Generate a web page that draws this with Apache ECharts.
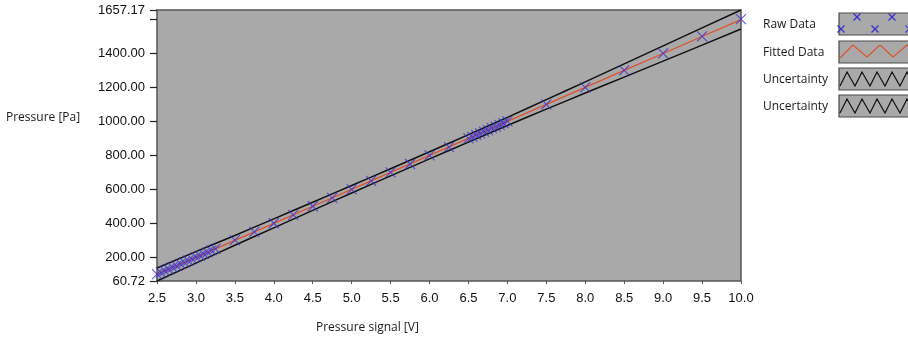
<!DOCTYPE html>
<html>
<head>
<meta charset="utf-8">
<script src="https://cdn.jsdelivr.net/npm/echarts@6/dist/echarts.min.js"></script>
<style>
html,body{margin:0;padding:0;background:#fff;}
#c{width:908px;height:342px;}
</style>
</head>
<body>
<div id="c"></div>
<script>
// ---- data ----
const rawV = [2.50,2.55,2.60,2.65,2.70,2.75,2.80,2.85,2.90,2.95,3.00,3.05,3.10,3.15,3.20,3.25,
  3.50,3.75,4.00,4.25,4.50,4.75,5.00,5.25,5.50,5.75,6.00,6.25,
  6.50,6.55,6.60,6.65,6.70,6.75,6.80,6.85,6.90,6.95,7.00,
  7.50,8.00,8.50,9.00,9.50,10.00];
const rawP = [101,110,121,130,141,150,161,170,181,190,201,210,221,230,241,250,
  301,350,401,450,501,550,601,650,700,750,801,850,
  901,910,921,930,941,950,961,970,981,990,1001,
  1101,1201,1301,1401,1502,1603];
const fitV = [2.5,3.0,3.5,4.0,4.5,5.0,5.5,6.0,6.5,7.0,7.5,8.0,8.5,9.0,9.5,10.0];
const fitP = [99.5,200,300,400.5,501,601,701,801,901,1001,1101,1201,1301,1401,1501,1601];
const upperP = [137,234,329,427,525,623,722,822,923,1025,1129,1234,1340,1446,1552,1657.17];
const lowerP = [60.72,166,271,374,477,579,680,780,879,977,1073,1168,1262,1356,1450,1545];
const yTickLabels = [60.72,200,400,600,800,1000,1200,1400,1657.17];
const yTicks = [60.72,200,400,600,800,1000,1200,1400,1600,1657.17];
const legendNames = ['Raw Data','Fitted Data','Uncertainty','Uncertainty'];

const pair = (xs, ys) => xs.map((x, i) => [x, ys[i]]);

const chart = echarts.init(document.getElementById('c'), null, {renderer: 'canvas'});
const tickFont = 'Liberation Sans';
const uiFont = '"Open Sans","Noto Sans",sans-serif';

// legend graphics
const legendG = [];
const boxTops = [13, 41, 68, 95];
const boxH = 22;
legendNames.forEach((name, i) => {
  const top = boxTops[i];
  legendG.push({type: 'text', x: 763, y: top + 12, z: 10,
    style: {text: name, font: '12px ' + uiFont, fill: '#1a1a1a', verticalAlign: 'middle'}});
  legendG.push({type: 'rect', z: 10, shape: {x: 839, y: top, width: 80, height: boxH},
    style: {fill: '#a9a9a9', stroke: '#4a4a4a', lineWidth: 1.2}});
});
// raw data crosses in legend
[[841, 29], [857, 17], [875, 29], [892, 17], [909, 29]].forEach(c => {
  const s = 3.5;
  legendG.push({type: 'line', z: 11, shape: {x1: c[0]-s, y1: c[1]-s, x2: c[0]+s, y2: c[1]+s},
    style: {stroke: '#3a2fd0', lineWidth: 1.2}});
  legendG.push({type: 'line', z: 11, shape: {x1: c[0]+s, y1: c[1]-s, x2: c[0]-s, y2: c[1]+s},
    style: {stroke: '#3a2fd0', lineWidth: 1.2}});
});
// fitted zigzag
legendG.push({type: 'polyline', z: 11, shape: {points: [[840,58],[853,45],[867,57],[880,45],[893,57],[907,45],[912,50]]},
  style: {stroke: '#e0502a', lineWidth: 1.2, fill: null}});
// uncertainty zigzags
[68, 95].forEach(t => {
  const pts = [];
  for (let k = 0; k < 6; k++) {
    pts.push([840 + k * 15, t + 18]);
    pts.push([847 + k * 15, t + 4]);
  }
  legendG.push({type: 'polyline', z: 11, shape: {points: pts}, style: {stroke: '#111', lineWidth: 1.2, fill: null}});
});
// axis titles
legendG.push({type: 'text', x: 6, y: 118, style: {text: 'Pressure [Pa]', font: '12px ' + uiFont, fill: '#1a1a1a', verticalAlign: 'middle'}});
legendG.push({type: 'text', x: 316, y: 328, style: {text: 'Pressure signal [V]', font: '12px ' + uiFont, fill: '#1a1a1a', verticalAlign: 'middle'}});

const option = {
  animation: false,
  backgroundColor: '#ffffff',
  grid: {left: 157, top: 10, right: 167, bottom: 61, show: true,
    backgroundColor: '#a9a9a9', borderColor: '#555', borderWidth: 1.5},
  xAxis: {
    type: 'value', min: 2.5, max: 10, interval: 0.5,
    axisLine: {show: false},
    axisTick: {show: true, length: 3, lineStyle: {color: '#555', width: 1}},
    splitLine: {show: false},
    axisLabel: {margin: 11, formatter: v => v.toFixed(1),
      fontFamily: tickFont, fontSize: 13, color: '#111'}
  },
  yAxis: {
    type: 'value', min: 60.72, max: 1657.17,
    axisLine: {show: false},
    splitLine: {show: false},
    axisTick: {show: true, length: 7, customValues: yTicks, lineStyle: {color: '#222', width: 1.2}},
    axisLabel: {margin: 12, customValues: yTickLabels, formatter: v => v.toFixed(2),
      fontFamily: tickFont, fontSize: 13, color: '#111'}
  },
  graphic: legendG,
  series: [
    {name: 'Uncertainty', type: 'line', data: pair(fitV, upperP), showSymbol: false, smooth: true,
      lineStyle: {color: '#111', width: 1.5}, z: 2},
    {name: 'Uncertainty', type: 'line', data: pair(fitV, lowerP), showSymbol: false, smooth: true,
      lineStyle: {color: '#111', width: 1.5}, z: 2},
    {name: 'Fitted Data', type: 'line', data: pair(fitV, fitP), showSymbol: false,
      lineStyle: {color: '#e0502a', width: 1.3}, z: 3},
    {name: 'Raw Data', type: 'scatter', data: pair(rawV, rawP),
      symbol: 'path://M0,0L10,10M10,0L0,10', symbolSize: 10,
      itemStyle: {color: 'rgba(0,0,0,0)', borderColor: '#3a2fd0', borderWidth: 1.1}, z: 4}
  ]
};
chart.setOption(option);
</script>
</body>
</html>
